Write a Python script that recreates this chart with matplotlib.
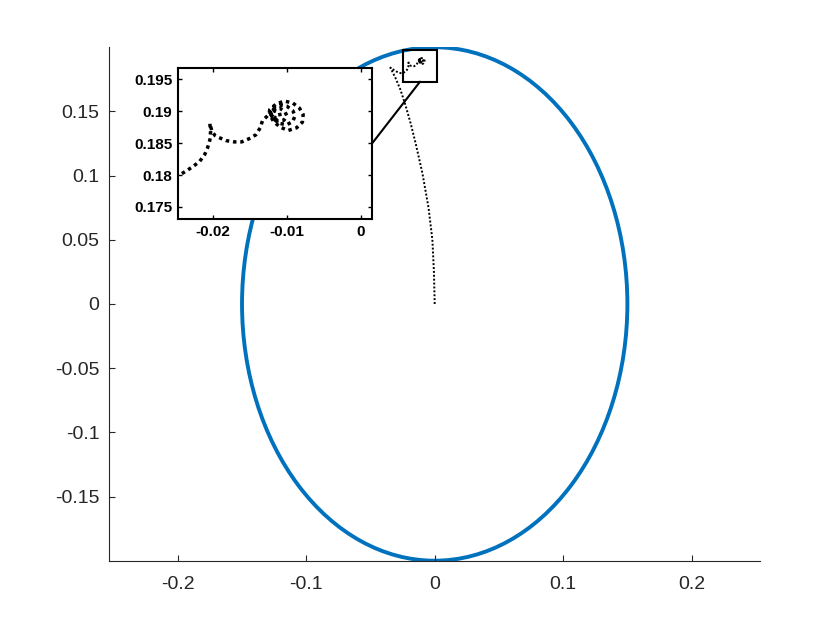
import matplotlib.pyplot as plt
import numpy as np
from matplotlib.patches import Ellipse, Rectangle, ConnectionPatch

plt.rcParams['font.family'] = ['Liberation Sans', 'DejaVu Sans']

# orbit (ellipse semi-axes)
orbit_a = 0.15
orbit_b = 0.20

# trajectory
traj_x = [0.0, -0.0006, -0.0018, -0.0048, -0.0096, -0.0148, -0.0188, -0.0228,
          -0.0267, -0.0305, -0.0345, -0.0325, -0.0300, -0.0275, -0.0255,
          -0.0245, -0.0235, -0.0226, -0.0218, -0.0211, -0.0207, -0.0204,
          -0.0203, -0.0204, -0.0201, -0.0197, -0.0192, -0.0182, -0.0171,
          -0.0161, -0.0151, -0.0142, -0.0136, -0.0133, -0.0127, -0.0124,
          -0.0123, -0.0114, -0.0103, -0.0092, -0.0083, -0.0078, -0.0079,
          -0.0087, -0.0098, -0.0109, -0.0118, -0.0123,
          -0.0120, -0.0110, -0.0100, -0.0092, -0.0089, -0.0092, -0.0100,
          -0.0110, -0.0118, -0.0122,
          -0.0118, -0.0110, -0.0103, -0.0100, -0.0104, -0.0112, -0.0119,
          -0.0122,
          -0.0116, -0.0110, -0.0109, -0.0114, -0.0120, -0.0122, -0.0121]
traj_y = [0.0, 0.025, 0.050, 0.075, 0.102, 0.125, 0.141, 0.155,
          0.167, 0.176, 0.1841, 0.1828, 0.1812, 0.1800, 0.1797,
          0.1800, 0.1807, 0.1814, 0.1821, 0.1832, 0.1843, 0.1855,
          0.1868, 0.1881, 0.1868, 0.1862, 0.1859, 0.1854, 0.1852,
          0.1852, 0.1857, 0.1863, 0.1874, 0.1885, 0.1892, 0.1896,
          0.1903, 0.1912, 0.1916, 0.1913, 0.1905, 0.1895, 0.1883,
          0.1874, 0.1870, 0.1875, 0.1884, 0.1895,
          0.1905, 0.1910, 0.1908, 0.1901, 0.1893, 0.1884, 0.1879,
          0.1881, 0.1888, 0.1896,
          0.1903, 0.1905, 0.1900, 0.1893, 0.1886, 0.1885, 0.1890,
          0.1897,
          0.1901, 0.1898, 0.1892, 0.1889, 0.1893, 0.1897, 0.1898]

# zoom window
zoom_x = [-0.0249, 0.0021]
zoom_y = [0.1732, 0.1979]

main_xticks = [-0.2, -0.1, 0, 0.1, 0.2]
main_yticks = [-0.15, -0.1, -0.05, 0, 0.05, 0.1, 0.15]
ins_xticks = [-0.02, -0.01, 0]
ins_yticks = [0.175, 0.18, 0.185, 0.19, 0.195]

fig = plt.figure(figsize=(8.4, 6.3), dpi=100)
ax = fig.add_axes([0.13, 0.11, 0.775, 0.815])

ax.add_patch(Ellipse((0, 0), 2*orbit_a, 2*orbit_b, fill=False,
                     edgecolor='#0072BD', lw=2.8))
ax.plot(traj_x, traj_y, color='black', lw=1.4, linestyle=(0, (1, 1)))
ax.add_patch(Rectangle((zoom_x[0], zoom_y[0]), zoom_x[1]-zoom_x[0],
                       zoom_y[1]-zoom_y[0], fill=False, edgecolor='black', lw=1.5))

ax.set_xlim(-0.2534, 0.2534)
ax.set_ylim(-0.2, 0.2)
ax.set_xticks(main_xticks)
ax.set_xticklabels(['-0.2', '-0.1', '0', '0.1', '0.2'])
ax.set_yticks(main_yticks)
ax.set_yticklabels(['-0.15', '-0.1', '-0.05', '0', '0.05', '0.1', '0.15'])
for s in ['top', 'right']:
    ax.spines[s].set_visible(False)
for s in ['left', 'bottom']:
    ax.spines[s].set_color('#262626')
    ax.spines[s].set_linewidth(0.8)
ax.tick_params(direction='in', length=4, width=0.8, colors='#262626',
               labelsize=14, pad=7)
ax.tick_params(axis='x', pad=11)

# inset
axi = fig.add_axes([0.2119, 0.6524, 0.2310, 0.2397])
axi.plot(traj_x, traj_y, color='black', lw=2.5, linestyle=(0, (1, 1.1)))
axi.set_xlim(-0.0247, 0.0015)
axi.set_ylim(0.1731, 0.1968)
axi.set_xticks(ins_xticks)
axi.set_xticklabels(['-0.02', '-0.01', '0'])
axi.set_yticks(ins_yticks)
axi.set_yticklabels(['0.175', '0.18', '0.185', '0.19', '0.195'])
for s in axi.spines.values():
    s.set_linewidth(1.5)
axi.tick_params(direction='in', length=3, width=1, labelsize=11, pad=4,
                top=True, right=True)
for lab in axi.get_xticklabels() + axi.get_yticklabels():
    lab.set_fontweight('bold')

con = ConnectionPatch(xyA=(1, 0.5), coordsA=axi.transAxes,
                      xyB=((zoom_x[0]+zoom_x[1])/2, zoom_y[0]), coordsB=ax.transData,
                      color='black', lw=1.5)
fig.add_artist(con)

fig.savefig('out.png', dpi=100)
